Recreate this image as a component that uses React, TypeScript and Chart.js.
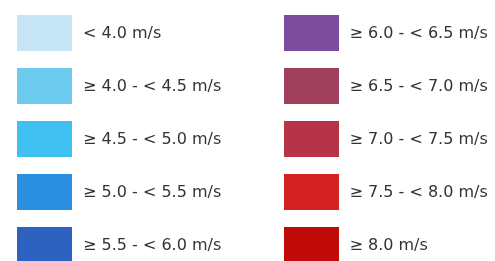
import React, { useEffect, useRef } from "react";
import { Chart, registerables } from "chart.js";

Chart.register(...registerables);

const LABELS = [
  "< 4.0 m/s",
  "≥ 4.0 - < 4.5 m/s",
  "≥ 4.5 - < 5.0 m/s",
  "≥ 5.0 - < 5.5 m/s",
  "≥ 5.5 - < 6.0 m/s",
  "≥ 6.0 - < 6.5 m/s",
  "≥ 6.5 - < 7.0 m/s",
  "≥ 7.0 - < 7.5 m/s",
  "≥ 7.5 - < 8.0 m/s",
  "≥ 8.0 m/s",
];

const COLORS = [
  "#c6e6f6",
  "#6ccbef",
  "#40c1f1",
  "#2b90e1",
  "#2d62c0",
  "#7c4c9d",
  "#a0405d",
  "#b73448",
  "#d42222",
  "#c10a0a",
];

const ROWS_PER_COLUMN = 5;
const BOX_W = 55;
const BOX_H = 36;
const TEXT_GAP = 11;
const FONT = "16px 'DejaVu Sans'";
const TEXT_COLOR = "#333333";

function makeSwatch(color: string): HTMLCanvasElement {
  const c = document.createElement("canvas");
  c.width = BOX_W;
  c.height = BOX_H;
  const g = c.getContext("2d")!;
  g.fillStyle = color;
  g.fillRect(0, 0, BOX_W, BOX_H);
  return c;
}

const labelPlugin = {
  id: "legendLabels",
  afterDatasetsDraw(chart: any) {
    const ctx = chart.ctx;
    const meta = chart.getDatasetMeta(0);
    ctx.save();
    ctx.font = FONT;
    ctx.fillStyle = TEXT_COLOR;
    ctx.textAlign = "left";
    ctx.textBaseline = "middle";
    meta.data.forEach((pt: any, i: number) => {
      ctx.fillText(LABELS[i], pt.x + BOX_W / 2 + TEXT_GAP, pt.y + 1);
    });
    ctx.restore();
  },
};

export default function App() {
  const ref = useRef<HTMLCanvasElement | null>(null);

  useEffect(() => {
    if (!ref.current) return;
    const swatches = COLORS.map(makeSwatch);
    const data = LABELS.map((_, i) => ({
      x: Math.floor(i / ROWS_PER_COLUMN),
      y: i % ROWS_PER_COLUMN,
    }));
    const chart = new Chart(ref.current, {
      type: "scatter",
      data: {
        datasets: [
          {
            label: "Wind speed",
            data,
            pointStyle: swatches as any,
            pointRadius: 20,
            pointHoverRadius: 20,
            clip: false as any,
          },
        ],
      },
      options: {
        animation: false,
        responsive: true,
        maintainAspectRatio: false,
        layout: { padding: 0, autoPadding: false },
        events: [],
        plugins: {
          legend: { display: false },
          tooltip: { enabled: false },
        },
        scales: {
          x: {
            type: "linear",
            display: false,
            min: -44.5 / 266.5,
            max: (495 - 44.5) / 266.5,
          },
          y: {
            type: "linear",
            display: false,
            reverse: true,
            min: -33 / 53,
            max: (261 - 33) / 53,
          },
        },
      },
      plugins: [labelPlugin],
    });
    return () => chart.destroy();
  }, []);

  return (
    <div
      style={{
        position: "absolute",
        left: 0,
        top: 0,
        width: 495,
        height: 261,
        background: "#ffffff",
      }}
    >
      <canvas ref={ref} />
    </div>
  );
}
